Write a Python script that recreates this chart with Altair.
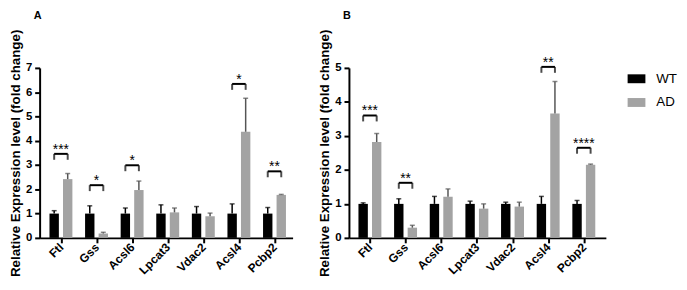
import altair as alt
import pandas as pd

genes = ["Ftl", "Gss", "Acsl6", "Lpcat3", "Vdac2", "Acsl4", "Pcbp2"]
groups = ["WT", "AD"]
group_colors = ["#000000", "#a3a3a3"]
err_colors = {"WT": "#000000", "AD": "#555555"}

# Panel A
a_wt = [1.0, 1.0, 1.0, 1.0, 1.0, 1.0, 1.0]
a_wt_err = [0.12, 0.32, 0.23, 0.36, 0.29, 0.40, 0.25]
a_ad = [2.42, 0.18, 1.97, 1.05, 0.89, 4.37, 1.77]
a_ad_err = [0.23, 0.05, 0.37, 0.18, 0.13, 1.38, 0.02]
a_sig = ["***", "*", "*", "", "", "*", "**"]
a_bracket = [3.46, 2.17, 2.99, None, None, 6.34, 2.74]

# Panel B
b_wt = [1.0, 1.0, 1.0, 1.0, 1.0, 1.0, 1.0]
b_wt_err = [0.03, 0.15, 0.22, 0.08, 0.05, 0.22, 0.10]
b_ad = [2.82, 0.30, 1.21, 0.86, 0.92, 3.66, 2.15]
b_ad_err = [0.25, 0.07, 0.23, 0.14, 0.13, 0.94, 0.02]
b_sig = ["***", "**", "", "", "", "**", "****"]
b_bracket = [3.60, 1.62, None, None, None, 5.03, 2.65]

OFF = 0.19
FONT = "Liberation Sans"
label_expr = "[" + ",".join("'%s'" % g for g in genes) + "][datum.value]"


def panel(letter, wt, wt_err, ad, ad_err, sig, bracket, ymax, xdom, w, h):
    rows = []
    for i, g in enumerate(genes):
        rows.append(dict(gene=g, idx=i, group="WT", pos=i - OFF, value=wt[i], top=wt[i] + wt_err[i], ecol=err_colors["WT"]))
        rows.append(dict(gene=g, idx=i, group="AD", pos=i + OFF, value=ad[i], top=ad[i] + ad_err[i], ecol=err_colors["AD"]))
    bars = pd.DataFrame(rows)
    br = [dict(idx=i, x1=i - OFF, x2=i + OFF, h=bracket[i], sig=sig[i]) for i in range(len(genes)) if bracket[i] is not None]
    brdf = pd.DataFrame(br)
    legs = pd.DataFrame([dict(xp=r["x1"], h=r["h"]) for r in br] + [dict(xp=r["x2"], h=r["h"]) for r in br])

    xs = alt.Scale(domain=xdom, nice=False, zero=False)
    ys = alt.Scale(domain=[0, ymax], nice=False)
    xax = alt.Axis(values=list(range(len(genes))), labelExpr=label_expr, labelAngle=-45,
                   labelAlign="right", labelBaseline="middle", labelFontSize=12, labelFontWeight="bold",
                   labelPadding=2, tickSize=5, tickWidth=2, domainWidth=2, domainColor="black",
                   tickColor="black", labelColor="black", grid=False, title=None, labelFlush=False,
                   labelOverlap=False)
    yax = alt.Axis(values=list(range(ymax + 1)), labelFontSize=11.5, labelFontWeight="bold", tickSize=5,
                   tickWidth=2, domainWidth=2, domainColor="black", tickColor="black", labelColor="black",
                   grid=False, title="Relative Expression level (fold change)", titleFontSize=13.5,
                   titleFontWeight="bold", titleColor="black", titlePadding=3, labelPadding=3,
                   labelOverlap=False, labelFlush=False)

    def X(f):
        return alt.X(f, type="quantitative", scale=xs, axis=xax)

    def Y(f):
        return alt.Y(f, type="quantitative", scale=ys, axis=yax)

    base_bars = alt.Chart(bars).mark_bar(size=9.5).encode(
        x=X("pos"), y=Y("value"),
        color=alt.Color("group:N", scale=alt.Scale(domain=groups, range=group_colors), sort=groups,
                        legend=alt.Legend(title=None)),
    )
    err = alt.Chart(bars).mark_rule(strokeWidth=1.5).encode(
        x=X("pos"), y=Y("value"), y2="top:Q", color=alt.Color("ecol:N", scale=None))
    cap = alt.Chart(bars).mark_tick(orient="horizontal", size=5, thickness=1.5).encode(
        x=X("pos"), y=Y("top"), color=alt.Color("ecol:N", scale=None))
    hline = alt.Chart(brdf).mark_rule(strokeWidth=2, color="black").encode(
        x=X("x1"), x2="x2:Q", y=Y("h"))
    leg = alt.Chart(legs).mark_tick(orient="vertical", size=6, thickness=2, color="black", yOffset=3).encode(
        x=X("xp"), y=Y("h"))
    stars = alt.Chart(brdf).mark_text(baseline="alphabetic", fontSize=14, font=FONT, color="black").encode(
        x=X("idx"), y=Y("h"), text="sig:N")
    return alt.layer(base_bars, err, cap, hline, leg, stars).properties(
        width=w, height=h,
        title=alt.TitleParams(letter, anchor="start", frame="group", fontSize=11, fontWeight="bold",
                              font=FONT, color="black", offset=8, dx=-6),
    )


pa = panel("A", a_wt, a_wt_err, a_ad, a_ad_err, a_sig, a_bracket, 7, [-0.46, 6.37], 256, 172)
pb = panel("B", b_wt, b_wt_err, b_ad, b_ad_err, b_sig, b_bracket, 5, [-0.45, 6.48], 260, 172)

chart = alt.hconcat(pa, pb, spacing=25).configure(font=FONT).configure_view(stroke=None).configure_legend(
    orient="right", offset=20, symbolType="M-1,-0.5H1V0.5H-1Z", symbolSize=324, symbolStrokeWidth=0,
    symbolOpacity=1, labelFontSize=13.5, labelFont=FONT, labelColor="black", rowPadding=8,
    labelOffset=11, padding=2,
).properties(padding={"left": 0, "top": 0, "right": 0, "bottom": 0})

chart.save("out.html", embed_options={"renderer": "svg", "actions": False})
